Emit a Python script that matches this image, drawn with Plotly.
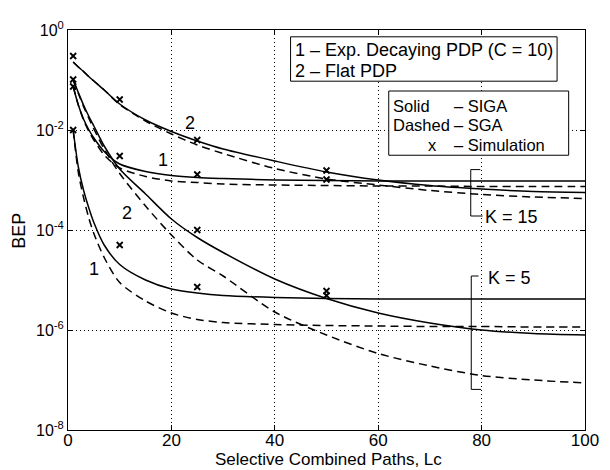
import plotly.graph_objects as go

# Selective combined paths (x axis)
lc = [1, 2, 3, 4, 5, 7, 10, 15, 20, 25, 30, 40, 50, 60, 70, 80, 90, 100]

# log10(BEP)
flat_k15_siga = [-0.64, -0.74, -0.83, -0.93, -1.02, -1.20, -1.48, -1.80, -2.03, -2.22, -2.38, -2.62, -2.84, -3.00, -3.11, -3.18, -3.23, -3.25]
flat_k15_sga = [-0.64, -0.74, -0.83, -0.93, -1.02, -1.20, -1.49, -1.82, -2.08, -2.30, -2.47, -2.77, -2.98, -3.10, -3.21, -3.29, -3.34, -3.37]
exp_k15_siga = [-1.13, -1.50, -1.78, -1.99, -2.16, -2.43, -2.68, -2.83, -2.91, -2.95, -2.97, -3.00, -3.01, -3.02, -3.02, -3.02, -3.02, -3.02]
exp_k15_sga = [-1.13, -1.50, -1.80, -2.02, -2.20, -2.50, -2.76, -2.93, -3.02, -3.05, -3.08, -3.10, -3.11, -3.12, -3.12, -3.13, -3.13, -3.13]
flat_k5_siga = [-1.00, -1.25, -1.50, -1.72, -1.92, -2.32, -2.78, -3.28, -3.78, -4.15, -4.45, -4.98, -5.37, -5.66, -5.86, -6.00, -6.07, -6.10]
flat_k5_sga = [-1.00, -1.27, -1.53, -1.76, -1.98, -2.38, -2.87, -3.52, -4.10, -4.60, -4.92, -5.64, -6.10, -6.47, -6.72, -6.91, -7.00, -7.06]
exp_k5_siga = [-2.00, -2.74, -3.20, -3.55, -3.85, -4.30, -4.69, -5.00, -5.18, -5.26, -5.31, -5.35, -5.37, -5.38, -5.38, -5.38, -5.38, -5.38]
exp_k5_sga = [-2.00, -2.85, -3.35, -3.75, -4.07, -4.55, -5.05, -5.42, -5.66, -5.79, -5.85, -5.89, -5.91, -5.92, -5.93, -5.93, -5.94, -5.94]

# simulation points
sim_lc = [1, 1, 1, 1, 10, 10, 10, 25, 25, 25, 25, 50, 50, 50, 50]
sim_log = [-0.52, -0.99, -1.13, -2.00, -1.39, -2.52, -4.30, -2.20, -2.89, -4.00, -5.14, -2.81, -2.99, -5.22, -5.31]

x_ticks = [0, 20, 40, 60, 80, 100]
y_ticks = [1e-8, 1e-6, 1e-4, 1e-2, 1]
y_ticktext = ["10<sup>-8</sup>", "10<sup>-6</sup>", "10<sup>-4</sup>", "10<sup>-2</sup>", "10<sup>0</sup>"]

FONT = "Liberation Sans, Arial, Helvetica, sans-serif"


def lin(v):
    return [10 ** e for e in v]


fig = go.Figure()
series = [
    (flat_k15_siga, "solid"), (flat_k15_sga, "8px,5px"),
    (exp_k15_siga, "solid"), (exp_k15_sga, "8px,5px"),
    (flat_k5_siga, "solid"), (flat_k5_sga, "8px,5px"),
    (exp_k5_siga, "solid"), (exp_k5_sga, "8px,5px"),
]
for vals, dash in series:
    fig.add_trace(go.Scatter(
        x=lc, y=lin(vals), mode="lines",
        line=dict(color="black", width=1.5, dash=dash, shape="spline", smoothing=0.8),
        hoverinfo="skip"))

fig.add_trace(go.Scatter(
    x=sim_lc, y=lin(sim_log), mode="markers",
    marker=dict(symbol="x-thin", size=6, line=dict(color="black", width=1.8), color="black")))

axis_common = dict(
    showline=True, linecolor="black", linewidth=1, mirror="ticks",
    ticks="inside", ticklen=5, tickcolor="black", tickwidth=1,
    showgrid=True, gridcolor="black", gridwidth=1, griddash="1px,3px",
    zeroline=False,
)

# page body has an 8px default margin: figure is sized/offset so the plot
# area lands at screen x 68..593, y 19..430
fig.update_layout(
    width=602, height=462,
    margin=dict(l=60.3, r=16.7, t=11, b=40),
    paper_bgcolor="white", plot_bgcolor="white",
    showlegend=False,
    font=dict(family=FONT, color="black", size=18),
    xaxis=dict(range=[0, 100], tickvals=x_ticks, tickfont=dict(size=17),
               ticklabelstandoff=-5, **axis_common),
    yaxis=dict(type="log", range=[-8, 0], tickvals=y_ticks, ticktext=y_ticktext,
               tickfont=dict(size=16), **axis_common),
)

ann = []
# curve labels (data coords, log10 y)
for txt, x, y in [("2", 23.5, -1.868), ("1", 18.4, -2.607), ("2", 11.4, -3.658), ("1", 5.1, -4.786)]:
    ann.append(dict(x=x, y=y, xref="x", yref="y", text=txt, showarrow=False, font=dict(size=18)))

# legend box texts (paper coords)
legend_rows = [
    ("1", 0.4356, "– Exp. Decaying PDP (C = 10)", 0.4642, 0.9489, 18),
    ("2", 0.4356, "– Flat PDP", 0.4642, 0.8978, 18),
    ("Solid", 0.6251, "– SIGA", 0.7430, 0.811, 16.5),
    ("Dashed", 0.6251, "– SGA", 0.7430, 0.7623, 16.5),
    ("x", 0.6918, "– Simulation", 0.7430, 0.7136, 16.5),
]
for a, xa, b, xb, y, fs in legend_rows:
    ann.append(dict(x=xa, y=y, xref="paper", yref="paper", text=a, showarrow=False,
                    xanchor="left", yanchor="middle", font=dict(size=fs)))
    ann.append(dict(x=xb, y=y, xref="paper", yref="paper", text=b, showarrow=False,
                    xanchor="left", yanchor="middle", font=dict(size=fs)))

ann.append(dict(x=80.3, y=0.533, xref="x", yref="paper", text="K = 15", showarrow=False,
                xanchor="left", yanchor="middle", font=dict(size=18)))
ann.append(dict(x=80.9, y=0.3796, xref="x", yref="paper", text="K = 5", showarrow=False,
                xanchor="left", yanchor="middle", font=dict(size=18)))

# axis titles
ann.append(dict(x=0.503, y=-0.0742, xref="paper", yref="paper", text="Selective Combined Paths, Lc",
                showarrow=False, xanchor="center", yanchor="middle", font=dict(size=17)))
ann.append(dict(x=-0.0952, y=0.4976, xref="paper", yref="paper", text="BEP", textangle=-90,
                showarrow=False, xanchor="center", yanchor="middle", font=dict(size=18)))

fig.update_layout(annotations=ann)

shapes = [
    dict(type="rect", xref="paper", yref="paper", x0=0.4305, x1=0.946, y0=0.872, y1=0.983,
         line=dict(color="black", width=1), fillcolor="white", layer="above"),
    dict(type="rect", xref="paper", yref="paper", x0=0.6204, x1=0.9684, y0=0.6869, y1=0.8475,
         line=dict(color="black", width=1), fillcolor="white", layer="above"),
    dict(type="path", xref="x", yref="paper",
         path="M 79.75,0.651 L 77.9,0.651 L 77.9,0.535 L 80.2,0.535",
         line=dict(color="black", width=1)),
    dict(type="path", xref="x", yref="paper",
         path="M 79.4,0.385 L 78.0,0.385 L 78.0,0.1015 L 79.9,0.1015",
         line=dict(color="black", width=1)),
]
fig.update_layout(shapes=shapes)

fig.write_html("out.html")
